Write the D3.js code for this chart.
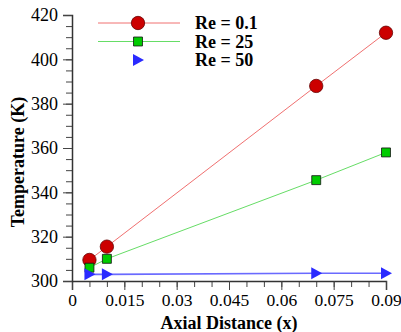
<!DOCTYPE html>
<html>
<head>
<meta charset="utf-8">
<script src="https://cdn.jsdelivr.net/npm/d3@7"></script>
<style>
  body { margin: 0; background: #fff; }
  text { font-family: "Liberation Serif", "Times New Roman", serif; }
</style>
</head>
<body>
<svg width="401" height="332"></svg>
<script>
// data
var xs = [0.005, 0.01, 0.07, 0.09];
var re01 = [309.5, 315.5, 388, 412];
var re25 = [306, 310, 345.5, 358];
var re50 = [303, 303, 303.5, 303.5];
var seriesNames = ["Re = 0.1", "Re = 25", "Re = 50"];
var xTicks = [0, 0.015, 0.03, 0.045, 0.06, 0.075, 0.09];
var yTicks = [300, 320, 340, 360, 380, 400, 420];

var margin = { top: 15, right: 15, bottom: 51, left: 72 },
    width = 386 - margin.left,
    height = 281 - margin.top;

var svg = d3.select("svg")
    .append("g")
    .attr("transform", "translate(" + margin.left + "," + margin.top + ")");

var x = d3.scaleLinear().domain([0, 0.09]).range([0, width]);
var y = d3.scaleLinear().domain([300, 420]).range([height, 0]);

// minor ticks
var xMinor = d3.range(0, 0.0901, 0.005);
var yMinor = d3.range(300, 420.1, 5);

svg.append("g")
    .attr("transform", "translate(0," + height + ")")
    .call(d3.axisBottom(x).tickValues(xMinor).tickSize(6).tickFormat(""))
    .call(g => g.selectAll("line").attr("stroke", "#444"))
    .call(g => g.select(".domain").remove());

svg.append("g")
    .call(d3.axisLeft(y).tickValues(yMinor).tickSize(6).tickFormat(""))
    .call(g => g.selectAll("line").attr("stroke", "#444"))
    .call(g => g.select(".domain").remove());

var xAxis = svg.append("g")
    .attr("transform", "translate(0," + height + ")")
    .call(d3.axisBottom(x).tickValues(xTicks).tickSize(9).tickPadding(4)
        .tickFormat(function (d) { return d === 0 ? "0" : String(+d.toFixed(3)); }));
xAxis.select(".domain").attr("stroke", "#333").attr("stroke-width", 1.5);
xAxis.selectAll("line").attr("stroke", "#444");
xAxis.selectAll("text").attr("font-size", 17.5).attr("fill", "#000")
    .attr("font-family", "Liberation Serif, serif");

var yAxis = svg.append("g")
    .call(d3.axisLeft(y).tickValues(yTicks).tickSize(9).tickPadding(5));
yAxis.select(".domain").attr("stroke", "#333").attr("stroke-width", 1.5);
yAxis.selectAll("line").attr("stroke", "#444");
yAxis.selectAll("text").attr("font-size", 18).attr("fill", "#000")
    .attr("font-family", "Liberation Serif, serif");

// axis titles
svg.append("text")
    .attr("x", 157)
    .attr("y", height + 48)
    .attr("text-anchor", "middle")
    .attr("font-size", 18)
    .attr("font-weight", "bold")
    .text("Axial Distance (x)");

svg.append("text")
    .attr("transform", "translate(" + (-48) + "," + (height / 2 + 14) + ")rotate(-90)")
    .attr("text-anchor", "middle")
    .attr("font-size", 18)
    .attr("font-weight", "bold")
    .text("Temperature (K)");

var line = d3.line()
    .x(function (d) { return x(d[0]); })
    .y(function (d) { return y(d[1]); });

var series = [
    { name: seriesNames[0], vals: re01, line: "#f07070", fill: "#cc0000", stroke: "#660000", shape: d3.symbolCircle, size: 140 },
    { name: seriesNames[1], vals: re25, line: "#66dd66", fill: "#00cc00", stroke: "#111", shape: d3.symbolSquare, size: 80 },
    { name: seriesNames[2], vals: re50, line: "#6a6aff", fill: "#2a2aff", stroke: "none", shape: "tri", size: 0 }
];

function marker(g, s) {
    if (s.shape === "tri") {
        g.append("path").attr("d", "M-5,-6L6,0L-5,6Z").attr("fill", s.fill);
    } else {
        g.append("path").attr("d", d3.symbol().type(s.shape).size(s.size)())
            .attr("fill", s.fill).attr("stroke", s.stroke).attr("stroke-width", 0.8);
    }
}

series.forEach(function (s) {
    var pts = xs.map(function (v, i) { return [v, s.vals[i]]; });
    svg.append("path")
        .datum(pts)
        .attr("d", line)
        .attr("fill", "none")
        .attr("stroke", s.line)
        .attr("stroke-width", s.shape === "tri" ? 1.6 : 1);
    svg.selectAll(null)
        .data(pts)
        .enter()
        .append("g")
        .attr("transform", function (d) { return "translate(" + x(d[0]) + "," + y(d[1]) + ")"; })
        .each(function () { marker(d3.select(this), s); });
});

// legend
var legend = svg.append("g").attr("transform", "translate(26,8)");
series.forEach(function (s, i) {
    var g = legend.append("g").attr("transform", "translate(0," + (i * 18.5) + ")");
    if (s.shape !== "tri") {
        g.append("line").attr("x1", 0).attr("x2", 82).attr("y1", 0).attr("y2", 0)
            .attr("stroke", s.line).attr("stroke-width", 1);
    }
    var m = g.append("g").attr("transform", "translate(40,0)");
    marker(m, s);
    g.append("text")
        .attr("x", 97)
        .attr("y", 6)
        .attr("font-size", 18)
        .attr("font-weight", "bold")
        .text(s.name);
});
</script>
</body>
</html>
